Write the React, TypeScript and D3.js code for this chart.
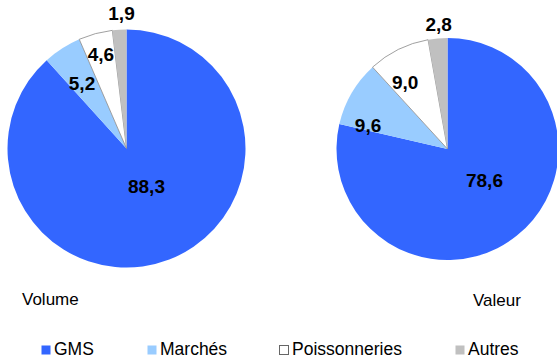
import React from "react";
import * as d3 from "d3";

const categories = ["GMS", "Marchés", "Poissonneries", "Autres"];
const volumeValues = [88.3, 5.2, 4.6, 1.9];
const valeurValues = [78.6, 9.6, 9.0, 2.8];
const pieTitles = ["Volume", "Valeur"];

const colors = ["#3366FF", "#99CCFF", "#FFFFFF", "#C0C0C0"];
const strokes = ["none", "none", "#888888", "none"];

const W = 557;
const H = 359;
const font = "'Liberation Sans', Arial, Helvetica, sans-serif";

// label placement: [radius factor, angle shift in degrees] per slice
const labelPlacement = [
  [[0.357, -7], [0.666, -1.4], [0.824, 0], [1.14, 1.3]],
  [[0.438, -11], [0.747, -13.7], [0.714, -6], [1.13, 1]],
];

const pies = [
  { values: volumeValues, cx: 126.5, cy: 148.5, r: 119, title: { x: 22, y: 305 } },
  { values: valeurValues, cx: 447.5, cy: 149, r: 111, title: { x: 473, y: 306 } },
];

const legendX = [41, 147, 279, 455];

const fmt = (v: number) => v.toFixed(1).replace(".", ",");

export default function App() {
  const pieGen = d3.pie<number>().sort(null).value((d) => d);

  return (
    <svg
      width={W}
      height={H}
      style={{ position: "absolute", left: 0, top: 0, background: "#fff" }}
      fontFamily={font}
    >
      {pies.map((p, pi) => {
        const arcs = pieGen(p.values);
        const arc = d3.arc<d3.PieArcDatum<number>>().innerRadius(0).outerRadius(p.r);
        return (
          <g key={pi} transform={`translate(${p.cx},${p.cy})`}>
            {arcs.map((a, i) => (
              <path
                key={i}
                d={arc(a) || ""}
                fill={colors[i]}
                stroke={strokes[i]}
                strokeWidth={0.8}
              />
            ))}
            {arcs.map((a, i) => {
              const [rf, shift] = labelPlacement[pi][i];
              const ang = (a.startAngle + a.endAngle) / 2 + (shift * Math.PI) / 180;
              const rr = rf * p.r;
              return (
                <text
                  key={"l" + i}
                  x={Math.sin(ang) * rr}
                  y={-Math.cos(ang) * rr}
                  dy="0.36em"
                  textAnchor="middle"
                  fontWeight="bold"
                  fontSize={19}
                  fill="#000"
                >
                  {fmt(p.values[i])}
                </text>
              );
            })}
          </g>
        );
      })}
      {pies.map((p, pi) => (
        <text key={"t" + pi} x={p.title.x} y={p.title.y} fontSize={17} fill="#000">
          {pieTitles[pi]}
        </text>
      ))}
      <g>
        {categories.map((c, i) => (
          <g key={c}>
            <rect
              x={legendX[i] + 0.5}
              y={345.5}
              width={9}
              height={9}
              fill={colors[i]}
              stroke={i === 2 ? "#666" : "none"}
              strokeWidth={1}
            />
            <text x={legendX[i] + 13} y={355} fontSize={17.5} fill="#000">
              {c}
            </text>
          </g>
        ))}
      </g>
    </svg>
  );
}
